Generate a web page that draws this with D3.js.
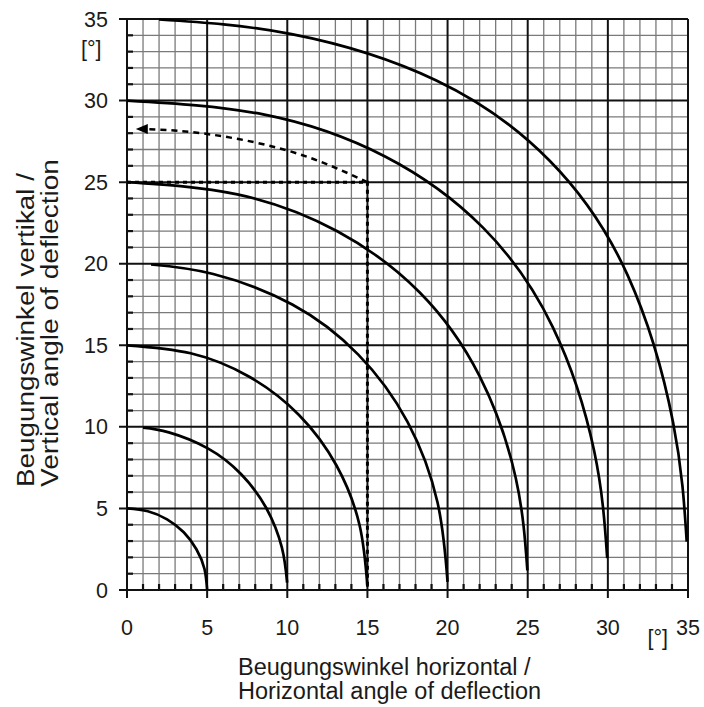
<!DOCTYPE html>
<html>
<head>
<meta charset="utf-8">
<script src="https://cdn.jsdelivr.net/npm/d3@7"></script>
<style>
  body { margin: 0; background: #fff; }
  text { font-family: "Liberation Sans", Arial, sans-serif; fill: #1a1a1a; }
</style>
</head>
<body>
<div id="chart-area"></div>
<script>
// values: horizontal / vertical angle in degrees
var ticks = [0, 5, 10, 15, 20, 25, 30, 35];
var minorTicks = d3.range(0, 36);

var curve5 = [[0, 5], [1.30, 4.83], [2.50, 4.33], [3.54, 3.54], [4.33, 2.50], [4.83, 1.30], [5, 0]];
var curve10 = [[1.0, 9.95], [2.61, 9.66], [5.04, 8.68], [7.11, 7.11], [8.68, 5.04], [9.66, 2.61], [9.99, 0.45]];
var curve15 = [[0, 15], [3.97, 14.51], [7.63, 13.07], [10.73, 10.73], [13.07, 7.63], [14.51, 3.97], [15, 0.2]];
var curve20 = [[1.5, 19.95], [5.38, 19.37], [10.31, 17.50], [14.43, 14.43], [17.50, 10.31], [19.37, 5.38], [20, 0.5]];
var curve25 = [[0, 25], [6.88, 24.25], [13.12, 21.99], [18.25, 18.25], [21.99, 13.12], [24.25, 6.88], [24.98, 1.2]];
var curve30 = [[0, 30], [8.50, 29.15], [16.10, 26.57], [22.21, 22.21], [26.57, 16.10], [29.15, 8.50], [29.96, 1.95]];
var curve35 = [[2, 34.97], [10.27, 34.07], [19.30, 31.23], [26.34, 26.34], [31.23, 19.30], [34.07, 10.27], [34.92, 2.96]];

// example reading: 15° horizontal + 25° vertical
var exampleBox = [[0, 25], [15, 25], [15, 0]];
var exampleArc = [[15, 25], [11.63, 26.42], [7.92, 27.45], [4.02, 28.07], [0.9, 28.25]];
var exampleTip = [0.55, 28.25];

var svg = d3.select("#chart-area")
  .append("svg")
  .attr("width", 704)
  .attr("height", 707);

var x = d3.scaleLinear().domain([0, 35]).range([127, 688]);
var y = d3.scaleLinear().domain([0, 35]).range([590, 19]);

var minorOnly = minorTicks.filter(function(d) { return d % 5 != 0; });

// minor grid
svg.append("g")
  .selectAll("line")
  .data(minorOnly)
  .enter()
  .append("line")
  .attr("x1", function(d) { return x(d); })
  .attr("x2", function(d) { return x(d); })
  .attr("y1", y(0))
  .attr("y2", y(35))
  .attr("stroke", "#7a7a7a")
  .attr("stroke-width", 1.3);

svg.append("g")
  .selectAll("line")
  .data(minorOnly)
  .enter()
  .append("line")
  .attr("y1", function(d) { return y(d); })
  .attr("y2", function(d) { return y(d); })
  .attr("x1", x(0))
  .attr("x2", x(35))
  .attr("stroke", "#7a7a7a")
  .attr("stroke-width", 1.3);

// major grid (ticks stick out below / left)
svg.append("g")
  .selectAll("line")
  .data(ticks)
  .enter()
  .append("line")
  .attr("x1", function(d) { return x(d); })
  .attr("x2", function(d) { return x(d); })
  .attr("y1", y(0) + 8)
  .attr("y2", y(35))
  .attr("stroke", "#111")
  .attr("stroke-width", 2);

svg.append("g")
  .selectAll("line")
  .data(ticks)
  .enter()
  .append("line")
  .attr("y1", function(d) { return y(d); })
  .attr("y2", function(d) { return y(d); })
  .attr("x1", x(0) - 8)
  .attr("x2", x(35))
  .attr("stroke", "#111")
  .attr("stroke-width", 2);

// small inner ticks on both axes
svg.append("g")
  .selectAll("line")
  .data(minorOnly)
  .enter()
  .append("line")
  .attr("x1", function(d) { return x(d); })
  .attr("x2", function(d) { return x(d); })
  .attr("y1", y(0))
  .attr("y2", y(0) - 6)
  .attr("stroke", "#111")
  .attr("stroke-width", 2.2);

svg.append("g")
  .selectAll("line")
  .data(minorOnly)
  .enter()
  .append("line")
  .attr("y1", function(d) { return y(d); })
  .attr("y2", function(d) { return y(d); })
  .attr("x1", x(0))
  .attr("x2", x(0) + 6)
  .attr("stroke", "#111")
  .attr("stroke-width", 2.2);

// tick labels
svg.append("g")
  .selectAll("text")
  .data(ticks)
  .enter()
  .append("text")
  .attr("x", function(d) { return x(d); })
  .attr("y", 635)
  .attr("font-size", "21.5px")
  .attr("text-anchor", "middle")
  .text(function(d) { return d; });

svg.append("g")
  .selectAll("text")
  .data(ticks)
  .enter()
  .append("text")
  .attr("x", 108)
  .attr("y", function(d) { return y(d) + 7.5; })
  .attr("font-size", "21.5px")
  .attr("text-anchor", "end")
  .text(function(d) { return d; });

svg.append("text")
  .attr("x", 81)
  .attr("y", 56)
  .attr("font-size", "21.5px")
  .text("[°]");

svg.append("text")
  .attr("x", 668)
  .attr("y", 645)
  .attr("font-size", "21.5px")
  .attr("text-anchor", "end")
  .text("[°]");

// axis titles
var xTitle = svg.append("text")
  .attr("font-size", "23.5px");
xTitle.append("tspan").attr("x", 238).attr("y", 675).text("Beugungswinkel horizontal /");
xTitle.append("tspan").attr("x", 238).attr("y", 699).text("Horizontal angle of deflection");

// the vertical title is a bit stretched in the original
var yTitle = svg.append("g")
  .attr("transform", "rotate(-90)")
  .attr("font-size", "23.5px");
yTitle.append("text").attr("x", -487).attr("y", 34)
  .attr("textLength", 314).attr("lengthAdjust", "spacingAndGlyphs")
  .text("Beugungswinkel vertikal /");
yTitle.append("text").attr("x", -487).attr("y", 58)
  .attr("textLength", 328).attr("lengthAdjust", "spacingAndGlyphs")
  .text("Vertical angle of deflection");

// deflection curves
var line = d3.line()
  .x(function(d) { return x(d[0]); })
  .y(function(d) { return y(d[1]); })
  .curve(d3.curveNatural);

svg.append("g")
  .selectAll("path")
  .data([curve5, curve10, curve15, curve20, curve25, curve30, curve35])
  .enter()
  .append("path")
  .attr("d", line)
  .attr("fill", "none")
  .attr("stroke", "#000")
  .attr("stroke-width", 2.7);

// example, dashed
svg.append("path")
  .attr("d", d3.line()
    .x(function(d) { return x(d[0]); })
    .y(function(d) { return y(d[1]); })(exampleBox))
  .attr("fill", "none")
  .attr("stroke", "#000")
  .attr("stroke-width", 3)
  .attr("stroke-dasharray", "4,4");

svg.append("path")
  .attr("d", line(exampleArc))
  .attr("fill", "none")
  .attr("stroke", "#000")
  .attr("stroke-width", 2.5)
  .attr("stroke-dasharray", "6,5");

var tx = x(exampleTip[0]), ty = y(exampleTip[1]);
svg.append("path")
  .attr("d", "M" + tx + "," + ty + "L" + (tx + 12) + "," + (ty - 5) + "L" + (tx + 12) + "," + (ty + 5) + "Z")
  .attr("fill", "#000");
</script>
</body>
</html>
